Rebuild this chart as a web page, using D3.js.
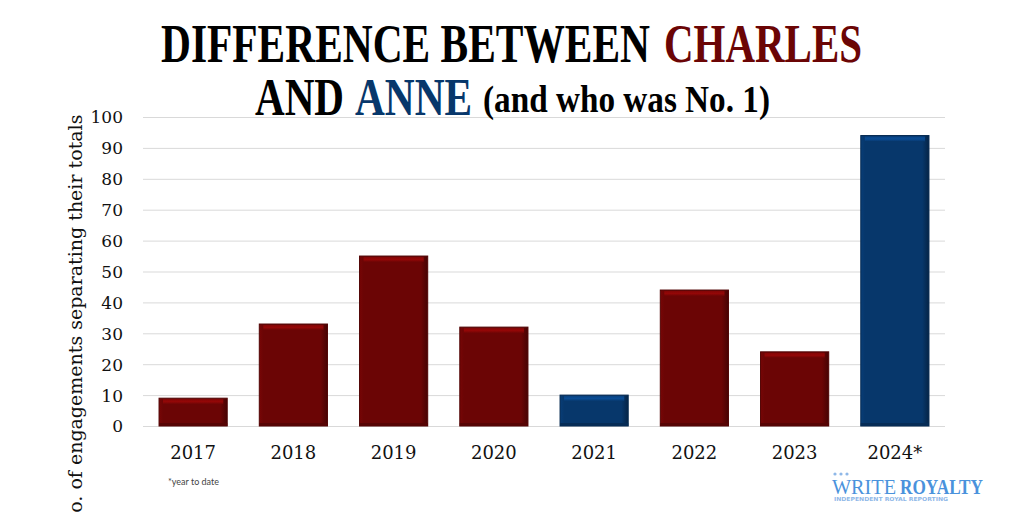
<!DOCTYPE html>
<html><head><meta charset="utf-8">
<script src="https://cdn.jsdelivr.net/npm/d3@7/dist/d3.min.js"></script>
<style>body{margin:0;background:#fff;}svg{display:block;}</style>
</head><body>
<svg id="c" width="1024" height="512"></svg>
<script>
const categories = ["2017","2018","2019","2020","2021","2022","2023","2024*"];
const values = [9,33,55,32,10,44,24,94];
const leader = ["Charles","Charles","Charles","Charles","Anne","Charles","Charles","Anne"];
const yTicks = [0,10,20,30,40,50,60,70,80,90,100];
const colors = {Charles:"#6b0505", Anne:"#07376b"};

const svg = d3.select("#c");
const m = {left:143, right:945, top:117, bottom:426};
const x = d3.scaleBand().domain(categories).range([m.left, m.right]).paddingInner(0.32).paddingOuter(0.16);
const y = d3.scaleLinear().domain([0,100]).range([m.bottom, m.top]);

const defs = svg.append("defs");
function grads(name, base){
  const c = d3.color(base);
  const g = defs.append("linearGradient").attr("id","h"+name).attr("x1","0").attr("x2","1").attr("y1","0").attr("y2","0");
  g.append("stop").attr("offset","0").attr("stop-color", c.brighter(0.3));
  g.append("stop").attr("offset","0.06").attr("stop-color", base);
  g.append("stop").attr("offset","0.9").attr("stop-color", base);
  g.append("stop").attr("offset","1").attr("stop-color", c.darker(1.2));
  const t = defs.append("linearGradient").attr("id","t"+name).attr("x1","0").attr("x2","0").attr("y1","0").attr("y2","1");
  t.append("stop").attr("offset","0").attr("stop-color", c.brighter(0.6));
  t.append("stop").attr("offset","0.5").attr("stop-color", c.brighter(0.9));
  t.append("stop").attr("offset","1").attr("stop-color", base);
}
grads("Charles", colors.Charles);
grads("Anne", colors.Anne);

// gridlines
svg.append("g").selectAll("line").data(yTicks).join("line")
  .attr("x1", m.left).attr("x2", m.right)
  .attr("y1", d=>y(d)+0.5).attr("y2", d=>y(d)+0.5)
  .attr("stroke", "#d9d9d9").attr("stroke-width",1);

// y axis labels
const yAxis = d3.axisLeft(y).tickValues(yTicks).tickSize(0).tickPadding(0);
const ya = svg.append("g").attr("transform", `translate(${m.left-20},0)`).call(yAxis);
ya.select(".domain").remove();
ya.selectAll("text").attr("font-family","DejaVu Serif").attr("font-size",17).attr("fill","#111").attr("dy","0.35em");

// bars
const bars = svg.append("g").selectAll("g").data(categories).join("g");
bars.append("rect")
  .attr("x", d=>x(d)).attr("width", x.bandwidth())
  .attr("y", (d,i)=>y(values[i])).attr("height", (d,i)=>y(0)-y(values[i]))
  .attr("fill", (d,i)=>`url(#h${leader[i]})`)
  .attr("stroke", (d,i)=>d3.color(colors[leader[i]]).darker(0.8)).attr("stroke-width",1);
bars.append("rect")
  .attr("x", d=>x(d)+4).attr("width", x.bandwidth()-8)
  .attr("y", (d,i)=>y(values[i])+1).attr("height", 5)
  .attr("fill", (d,i)=>`url(#t${leader[i]})`);
bars.append("rect")
  .attr("x", d=>x(d)).attr("width", x.bandwidth())
  .attr("y", (d,i)=>y(0)-3).attr("height", 3)
  .attr("fill", (d,i)=>d3.color(colors[leader[i]]).darker(0.6));

// x axis labels
const xAxis = d3.axisBottom(x).tickSize(0).tickPadding(0);
const xa = svg.append("g").attr("transform", `translate(0,${m.bottom+27})`).call(xAxis);
xa.select(".domain").remove();
xa.selectAll("text").attr("font-family","DejaVu Serif").attr("font-size",18).attr("fill","#111").attr("dy","0.35em");

// y title
svg.append("text").attr("transform","translate(82,322) rotate(-90)")
  .attr("text-anchor","middle").attr("font-family","DejaVu Serif").attr("font-size",19).attr("fill","#111")
  .text("No. of engagements separating their totals");

// footnote
svg.append("text").attr("x",168).attr("y",485).attr("font-family","Lato, sans-serif").attr("font-size",9).attr("fill","#444").text("*year to date");

// title
function tt(txt, x0, w, yb, fs, fill){
  svg.append("text").attr("x",x0).attr("y",yb).attr("font-family","Liberation Serif").attr("font-weight","bold")
    .attr("font-size",fs).attr("fill",fill).attr("textLength",w).attr("lengthAdjust","spacingAndGlyphs").text(txt);
}
tt("DIFFERENCE BETWEEN", 161, 489, 62, 55, "#000");
tt("CHARLES", 664, 198, 62, 55, "#6b0505");
tt("AND", 255, 89, 115, 53, "#000");
tt("ANNE", 355, 117, 115, 53, "#07376b");
tt("(and who was No. 1)", 483, 287, 112, 38, "#000");

// logo
const lg = svg.append("g");
lg.selectAll("circle").data([0,1,2]).join("circle").attr("cx",d=>835+d*6).attr("cy",474).attr("r",1.6).attr("fill","#8fb8e8");
lg.append("text").attr("x",832).attr("y",494).attr("font-family","Liberation Serif").attr("font-size",20)
  .attr("fill","#4a92dc").attr("textLength",64).attr("lengthAdjust","spacingAndGlyphs").text("WRITE");
lg.append("text").attr("x",900).attr("y",494).attr("font-family","Liberation Serif").attr("font-weight","bold").attr("font-size",20)
  .attr("fill","#4a92dc").attr("textLength",83).attr("lengthAdjust","spacingAndGlyphs").text("ROYALTY");
lg.append("text").attr("x",834).attr("y",501).attr("font-family","DejaVu Sans").attr("font-weight","bold").attr("font-size",5.5)
  .attr("fill","#8fb8e8").attr("textLength",114).attr("lengthAdjust","spacingAndGlyphs").text("INDEPENDENT ROYAL REPORTING");
</script>
</body></html>
